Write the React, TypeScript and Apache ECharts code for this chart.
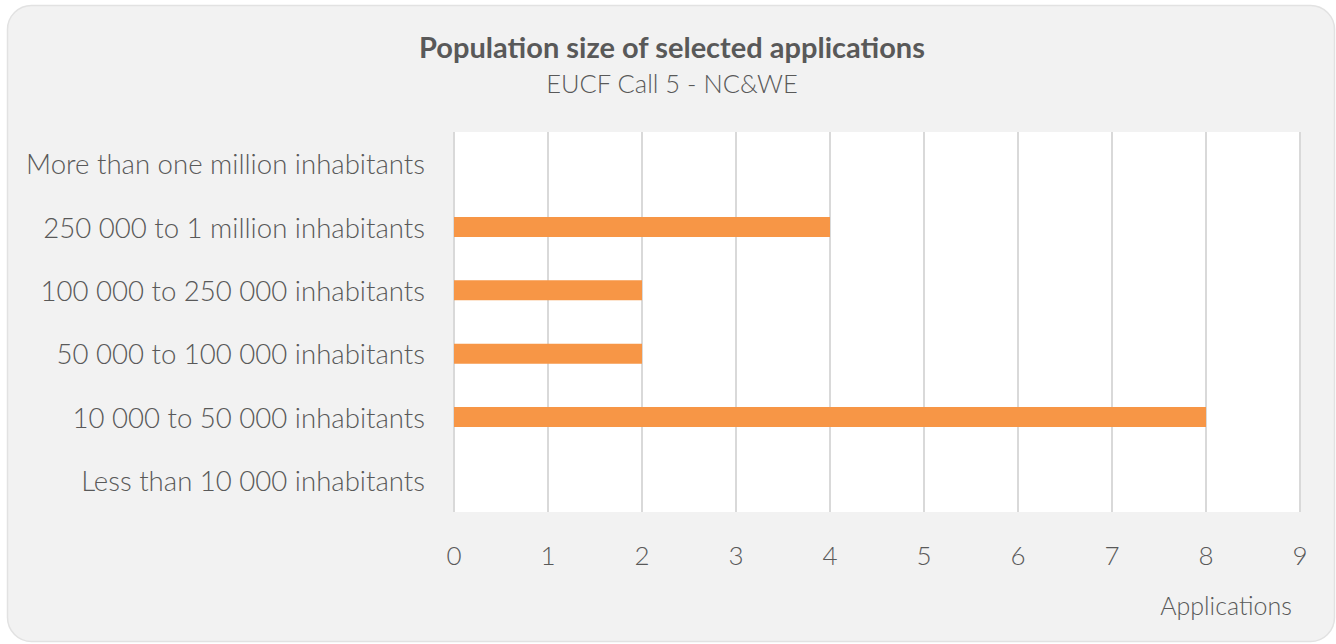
import React, { useEffect, useRef } from "react";
import * as echarts from "echarts";

const categories = [
  "Less than 10 000 inhabitants",
  "10 000 to 50 000 inhabitants",
  "50 000 to 100 000 inhabitants",
  "100 000 to 250 000 inhabitants",
  "250 000 to 1 million inhabitants",
  "More than one million inhabitants",
];
const applications = [0, 8, 2, 2, 4, 0];
const titleText = "Population size of selected applications";
const subtitleText = "EUCF Call 5 - NC&WE";
const axisNameText = "Applications";

const FONT = "Lato";
const TEXT_COLOR = "#595959";

export default function App() {
  const ref = useRef<HTMLDivElement>(null);
  useEffect(() => {
    if (!ref.current) return;
    const chart = echarts.init(ref.current, undefined, { renderer: "svg" });
    chart.setOption({
      animation: false,
      backgroundColor: "#ffffff",
      textStyle: { fontFamily: FONT },
      graphic: [
        {
          type: "rect",
          z: -10,
          shape: { x: 7.5, y: 5.5, width: 1327, height: 636, r: 24 },
          style: { fill: "#f2f2f2", stroke: "#e2e2e2", lineWidth: 1.5 },
        },
        {
          type: "text",
          x: 672,
          y: 46,
          style: {
            text: titleText,
            fontFamily: FONT,
            fontSize: 29,
            fontWeight: "bold",
            fill: TEXT_COLOR,
            textAlign: "center",
            textVerticalAlign: "middle",
          },
        },
        {
          type: "text",
          x: 672,
          y: 83,
          style: {
            text: subtitleText,
            fontFamily: FONT,
            fontSize: 25.5,
            fontWeight: 300,
            fill: TEXT_COLOR,
            textAlign: "center",
            textVerticalAlign: "middle",
          },
        },
        {
          type: "text",
          x: 1226,
          y: 605,
          style: {
            text: axisNameText,
            fontFamily: FONT,
            fontSize: 25,
            fontWeight: 300,
            fill: TEXT_COLOR,
            textAlign: "center",
            textVerticalAlign: "middle",
          },
        },
      ],
      grid: {
        left: 454,
        top: 132,
        width: 846,
        height: 380,
        show: true,
        backgroundColor: "#ffffff",
        borderWidth: 0,
        containLabel: false,
      },
      xAxis: {
        type: "value",
        min: 0,
        max: 9,
        interval: 1,
        axisLine: { show: false },
        axisTick: { show: false },
        splitLine: { show: true, lineStyle: { color: "#d9d9d9", width: 2 } },
        axisLabel: {
          margin: 30,
          fontSize: 26,
          fontWeight: 300,
          fontFamily: FONT,
          color: TEXT_COLOR,
        },
      },
      yAxis: {
        type: "category",
        data: categories,
        axisLine: { show: false },
        axisTick: { show: false },
        splitLine: { show: false },
        axisLabel: {
          margin: 29,
          fontSize: 27.6,
          fontWeight: 300,
          fontFamily: FONT,
          color: TEXT_COLOR,
        },
      },
      series: [
        {
          type: "bar",
          data: applications,
          barWidth: 20,
          itemStyle: { color: "#f79646" },
        },
      ],
    });
    return () => chart.dispose();
  }, []);
  return (
    <div
      ref={ref}
      style={{ position: "fixed", left: 0, top: 0, width: 1336, height: 644 }}
    />
  );
}
